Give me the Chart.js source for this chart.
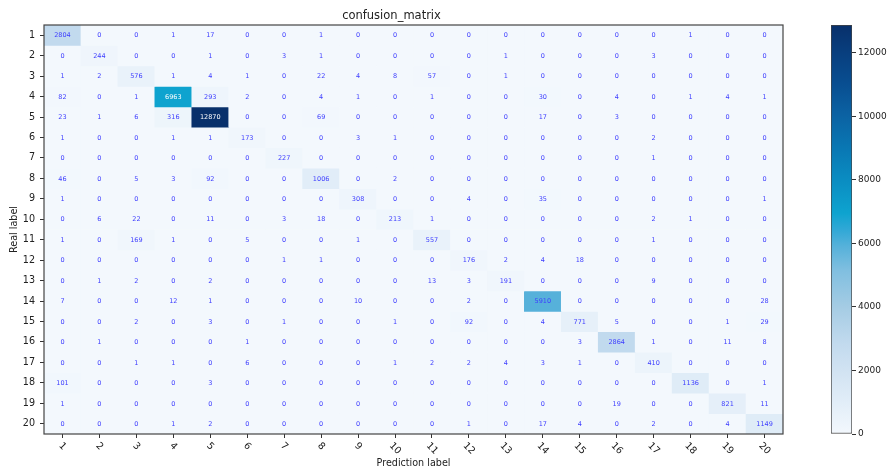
<!DOCTYPE html>
<html><head><meta charset="utf-8">
<script src="https://cdn.jsdelivr.net/npm/chart.js@4"></script>
<style>
html,body{margin:0;padding:0;background:#fff;}
#wrap{position:relative;width:887px;height:468px;overflow:hidden;}
#main{position:absolute;left:0;top:0;}
#cbar{position:absolute;left:787px;top:0;}
</style></head><body>
<div id="wrap"><canvas id="main" width="887" height="468"></canvas><canvas id="cbar" width="100" height="468"></canvas></div>
<script>
const rowLabels = ['1','2','3','4','5','6','7','8','9','10','11','12','13','14','15','16','17','18','19','20'];
const colLabels = ['1','2','3','4','5','6','7','8','9','10','11','12','13','14','15','16','17','18','19','20'];

const row01 = [2804,0,0,1,17,0,0,1,0,0, 0,0,0,0,0,0,0,1,0,0];
const row02 = [0,244,0,0,1,0,3,1,0,0, 0,0,1,0,0,0,3,0,0,0];
const row03 = [1,2,576,1,4,1,0,22,4,8, 57,0,1,0,0,0,0,0,0,0];
const row04 = [82,0,1,6963,293,2,0,4,1,0, 1,0,0,30,0,4,0,1,4,1];
const row05 = [23,1,6,316,12870,0,0,69,0,0, 0,0,0,17,0,3,0,0,0,0];
const row06 = [1,0,0,1,1,173,0,0,3,1, 0,0,0,0,0,0,2,0,0,0];
const row07 = [0,0,0,0,0,0,227,0,0,0, 0,0,0,0,0,0,1,0,0,0];
const row08 = [46,0,5,3,92,0,0,1006,0,2, 0,0,0,0,0,0,0,0,0,0];
const row09 = [1,0,0,0,0,0,0,0,308,0, 0,4,0,35,0,0,0,0,0,1];
const row10 = [0,6,22,0,11,0,3,18,0,213, 1,0,0,0,0,0,2,1,0,0];
const row11 = [1,0,169,1,0,5,0,0,1,0, 557,0,0,0,0,0,1,0,0,0];
const row12 = [0,0,0,0,0,0,1,1,0,0, 0,176,2,4,18,0,0,0,0,0];
const row13 = [0,1,2,0,2,0,0,0,0,0, 13,3,191,0,0,0,9,0,0,0];
const row14 = [7,0,0,12,1,0,0,0,10,0, 0,2,0,5910,0,0,0,0,0,28];
const row15 = [0,0,2,0,3,0,1,0,0,1, 0,92,0,4,771,5,0,0,1,29];
const row16 = [0,1,0,0,0,1,0,0,0,0, 0,0,0,0,3,2864,1,0,11,8];
const row17 = [0,0,1,1,0,6,0,0,0,1, 2,2,4,3,1,0,410,0,0,0];
const row18 = [101,0,0,0,3,0,0,0,0,0, 0,0,0,0,0,0,0,1136,0,1];
const row19 = [1,0,0,0,0,0,0,0,0,0, 0,0,0,0,0,19,0,0,821,11];
const row20 = [0,0,0,1,2,0,0,0,0,0, 0,1,0,17,4,0,2,0,4,1149];
const matrix = [row01,row02,row03,row04,row05,row06,row07,row08,row09,row10,
                row11,row12,row13,row14,row15,row16,row17,row18,row19,row20];

const cbTicks = [0,2000,4000,6000,8000,10000,12000];
const chartTitle = 'confusion_matrix';
const xTitle = 'Prediction label';
const yTitle = 'Real label';

const vmax = Math.max(...matrix.flat());

const cmapStops = [
  [0.00,'#f3f8fd'],[0.08,'#e1edf8'],[0.16,'#d0e2f2'],[0.22,'#c2daee'],
  [0.31,'#a5cce4'],[0.40,'#80bfe0'],[0.46,'#55b1da'],[0.50,'#30a8d6'],
  [0.54,'#0ea3cf'],[0.62,'#0a8dc2'],[0.70,'#0977b3'],[0.78,'#0b62a3'],
  [0.86,'#084d90'],[0.93,'#083f7f'],[1.00,'#08306b']
];
function hex2rgb(h){return [parseInt(h.slice(1,3),16),parseInt(h.slice(3,5),16),parseInt(h.slice(5,7),16)];}
function cmap(t){
  t=Math.max(0,Math.min(1,t));
  for(let i=1;i<cmapStops.length;i++){
    const [t1,c1]=cmapStops[i]; const [t0,c0]=cmapStops[i-1];
    if(t<=t1){
      const f=(t-t0)/(t1-t0); const a=hex2rgb(c0), b=hex2rgb(c1);
      return 'rgb('+a.map((v,k)=>Math.round(v+(b[k]-v)*f)).join(',')+')';
    }
  }
  return cmapStops[cmapStops.length-1][1];
}

Chart.defaults.font.family = '"DejaVu Sans", sans-serif';
Chart.defaults.color = '#222';

const datasets = matrix.map((row,r)=>({
  label: rowLabels[r],
  data: row.map(()=>[r+0.5, r+1.5]),
  backgroundColor: row.map(v=>cmap(v/vmax)),
  borderWidth: 0,
  grouped: false,
  barPercentage: 1,
  categoryPercentage: 1
}));

const cellPlugin = {
  id:'cellPlugin',
  afterDatasetsDraw(chart){
    const ctx=chart.ctx; ctx.save();
    ctx.font='6.5px "DejaVu Sans"'; ctx.textAlign='center'; ctx.textBaseline='middle';
    matrix.forEach((row,r)=>{
      const meta=chart.getDatasetMeta(r);
      row.forEach((v,c)=>{
        const el=meta.data[c];
        ctx.fillStyle = v > vmax/2 ? '#ffffff' : '#3d3dff';
        ctx.fillText(String(v), el.x, (el.y+el.base)/2 + 0.5);
      });
    });
    const a=chart.chartArea;
    ctx.strokeStyle='#444'; ctx.lineWidth=1.2;
    ctx.strokeRect(a.left,a.top,a.right-a.left,a.bottom-a.top);
    ctx.restore();
  },
  afterDraw(chart){
    const xs=chart.scales.x; const ctx=chart.ctx; ctx.save();
    ctx.font='9.6px "DejaVu Sans"'; ctx.fillStyle='#222';
    ctx.textAlign='center'; ctx.textBaseline='middle';
    xs.ticks.forEach((t,i)=>{
      const lab=colLabels[i]; const w=ctx.measureText(lab).width;
      const cx=xs.getPixelForTick(i);
      const cy=xs.top+7+(w+9)/(2*Math.SQRT2);
      ctx.save(); ctx.translate(cx,cy); ctx.rotate(Math.PI/4);
      ctx.fillText(lab,0,0); ctx.restore();
    });
    ctx.restore();
  }
};

new Chart(document.getElementById('main'),{
  type:'bar',
  data:{labels:colLabels, datasets},
  options:{
    responsive:false, animation:false,
    layout:{padding:{left:0,right:104,top:0,bottom:0}},
    plugins:{
      legend:{display:false}, tooltip:{enabled:false},
      title:{display:true,text:chartTitle,color:'#222',
        font:{size:11.5,weight:'normal',lineHeight:1.2},padding:{top:9.5,bottom:1.7}}
    },
    scales:{
      x:{type:'category', offset:true,
        grid:{display:true,offset:false,drawOnChartArea:false,drawTicks:true,tickLength:4,tickColor:'#333',tickWidth:1},
        border:{display:false},
        ticks:{display:false},
        title:{display:true,text:xTitle,color:'#222',font:{size:9.6,lineHeight:1},padding:{top:0,bottom:0}},
        afterFit(s){s.height=34;}
      },
      y:{type:'linear', reverse:true, min:0.5, max:20.5,
        afterBuildTicks(s){s.ticks=rowLabels.map((_,i)=>({value:i+1}));},
        ticks:{callback:(v)=>rowLabels[v-1], color:'#222', font:{size:9.6}, padding:5, autoSkip:false},
        grid:{drawOnChartArea:false,drawTicks:true,tickLength:4,tickColor:'#333',tickWidth:1},
        border:{display:false},
        title:{display:true,text:yTitle,color:'#222',font:{size:9.6,lineHeight:1.2},padding:{top:9,bottom:0}},
        afterFit(s){s.width=44;}
      }
    }
  },
  plugins:[cellPlugin]
});

new Chart(document.getElementById('cbar'),{
  type:'bar',
  data:{labels:['cb'], datasets:[{
    data:[[0,vmax]],
    backgroundColor:(c)=>{
      const ch=c.chart; const ys=ch.scales.y;
      if(!ys || !ch.chartArea) return cmap(0.5);
      const g=ch.ctx.createLinearGradient(0,ys.getPixelForValue(0),0,ys.getPixelForValue(vmax));
      cmapStops.forEach(([t,col])=>g.addColorStop(t,col));
      return g;
    },
    borderColor:'#444', borderWidth:1, borderSkipped:false,
    barPercentage:1, categoryPercentage:1
  }]},
  options:{
    responsive:false, animation:false,
    layout:{padding:{left:44,top:25,bottom:34,right:0}},
    plugins:{legend:{display:false},tooltip:{enabled:false}},
    scales:{
      x:{display:false},
      y:{position:'right', min:0, max:vmax,
        afterBuildTicks(s){s.ticks=cbTicks.map(v=>({value:v}));},
        ticks:{color:'#222', font:{size:9}, padding:2, callback:(v)=>String(v)},
        grid:{drawOnChartArea:false,drawTicks:true,tickLength:4,tickColor:'#333'},
        border:{display:false},
        afterFit(s){s.width=35;}
      }
    }
  }
});
</script>
</body></html>
